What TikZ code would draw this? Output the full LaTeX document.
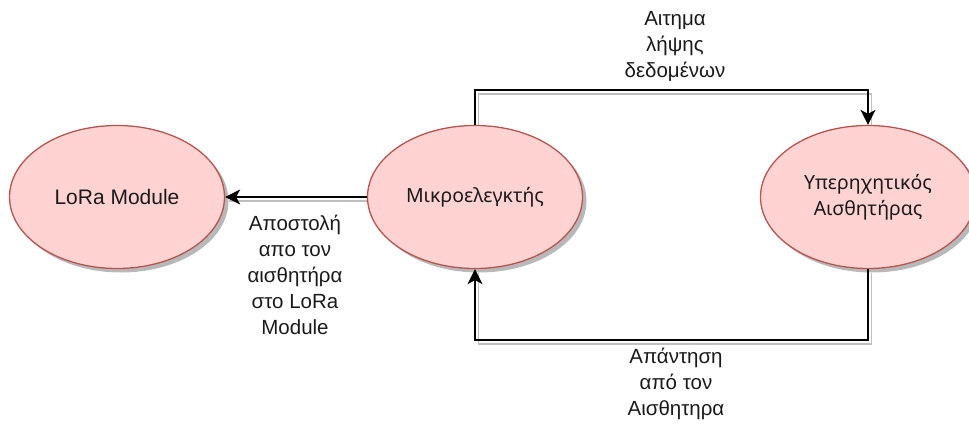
\documentclass[tikz,border=0pt]{standalone}
\usepackage{fontspec}
\setmainfont{Liberation Sans}
\newfontfamily\uifont{Noto Sans}
\usetikzlibrary{arrows.meta,shadows,backgrounds,shapes.geometric}

\definecolor{nodefill}{HTML}{FFD3D2}
\definecolor{nodeline}{HTML}{B85450}
\definecolor{inkcol}{HTML}{1A1A1A}

\tikzset{
  unit/.style={
    ellipse, draw=nodeline, fill=nodefill, line width=1.3pt,
    minimum width=215pt, minimum height=143pt, inner sep=0pt,
    text=inkcol, align=center,
    drop shadow={shadow xshift=4pt, shadow yshift=-4pt, fill=black, opacity=0.28}
  },
  wire/.style={draw=black, line width=1.4pt,
    -{Stealth[length=15pt,width=15pt,inset=4pt]}},
  wireshadow/.style={draw=black!25, line width=1.4pt,
    transform canvas={xshift=3.5pt,yshift=-4pt}},
  tag/.style={align=center, text=inkcol, font=\fontsize{20.5}{26}\selectfont}
}

\begin{document}
\begin{tikzpicture}[x=1pt,y=-1pt]
  \useasboundingbox (0,0) rectangle (969,423);
  \clip (0,0) rectangle (969,423);

  % the three units
  \node[unit, font=\fontsize{21}{26}\selectfont] (lora) at (117,197) {LoRa Module};
  \node[unit, font=\uifont\fontsize{19.5}{26}\selectfont] (mcu) at (475,197) {Μικροελεγκτής};
  \node[unit, font=\uifont\fontsize{19.5}{26}\selectfont] (sonar) at (868,197) {Υπερηχητικός\\Αισθητήρας};

  % bends of the request / reply loops
  \coordinate (reqA) at (mcu.north |- 0,90);
  \coordinate (reqB) at (sonar.north |- 0,90);
  \coordinate (repA) at (sonar.south |- 0,340);
  \coordinate (repB) at (mcu.south |- 0,340);

  % soft shadows under the connectors
  \begin{scope}[on background layer]
    \draw[wireshadow] (mcu.west) -- (lora.east);
    \draw[wireshadow] (mcu.north) -- (reqA) -- (reqB) -- (sonar.north);
    \draw[wireshadow] (sonar.south) -- (repA) -- (repB) -- (mcu.south);
  \end{scope}

  % connectors
  \draw[wire] (mcu.west) -- (lora.east);
  \draw[wire] (mcu.north) -- (reqA) -- (reqB) -- (sonar.north);
  \draw[wire] (sonar.south) -- (repA) -- (repB) -- (mcu.south);

  % connector labels
  \node[tag] (sendtag) at (295,275) {Αποστολή\\απο τον\\αισθητήρα\\στο LoRa\\Module};
  \node[tag] (reqtag) at (675,46) {Αιτημα\\λήψης\\δεδομένων};
  \node[tag] (reptag) at (676,384) {Απάντηση\\από τον\\Αισθητηρα};
\end{tikzpicture}
\end{document}
